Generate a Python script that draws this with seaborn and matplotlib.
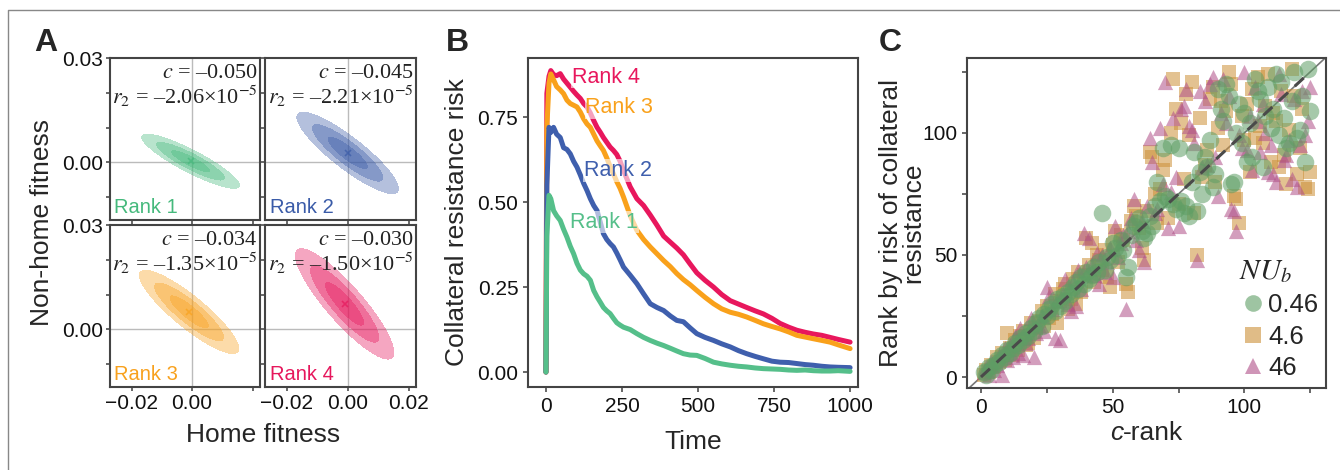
import numpy as np
import pandas as pd
import matplotlib
matplotlib.use("Agg")
import matplotlib.pyplot as plt
import seaborn as sns
from matplotlib.lines import Line2D
from matplotlib.offsetbox import TextArea, HPacker, AnchoredOffsetbox

# ---------------- Daten ----------------
# Panel A: Parameter der Fitness-Verteilungen (Mittelwert, SD, Korrelation)
rank_names = ["Rank 1", "Rank 2", "Rank 3", "Rank 4"]
rank_colors = ["#45B97C", "#3A5BA8", "#F8A11D", "#E6175C"]
ell_mean_x = [-0.0005, 0.0, -0.001, -0.001]
ell_mean_y = [0.0003, 0.0027, 0.005, 0.0073]
ell_sd_x = [0.0062, 0.0064, 0.0063, 0.0062]
ell_sd_y = [0.0030, 0.0045, 0.0046, 0.0061]
ell_rho = [-0.89, -0.88, -0.88, -0.88]
c_labels = ["\u20130.050", "\u20130.045", "\u20130.034", "\u20130.030"]
r2_labels = ["\u20132.06", "\u20132.21", "\u20131.35", "\u20131.50"]

# Panel B: Collateral resistance risk über die Zeit
time = [0, 3, 10, 16, 25, 35, 47, 58, 69, 80, 91, 102, 113, 124, 135, 146, 157, 168, 179, 189,
        200, 211, 222, 233, 244, 255, 277, 299, 321, 343, 365, 387, 409, 430, 452, 474, 496, 523,
        551, 578, 606, 633, 660, 688, 715, 743, 770, 798, 825, 852, 879, 907, 934, 961, 1000]
risk_rank4 = [0.0, 0.82, 0.87, 0.887, 0.875, 0.872, 0.878, 0.862, 0.85, 0.838, 0.826, 0.815, 0.805,
              0.79, 0.78, 0.762, 0.74, 0.72, 0.705, 0.69, 0.676, 0.662, 0.652, 0.64, 0.62, 0.593,
              0.545, 0.51, 0.49, 0.462, 0.432, 0.40, 0.382, 0.365, 0.345, 0.318, 0.292, 0.27, 0.25,
              0.228, 0.21, 0.2, 0.19, 0.18, 0.171, 0.158, 0.143, 0.132, 0.123, 0.117, 0.112, 0.108,
              0.102, 0.096, 0.088]
risk_rank3 = [0.0, 0.72, 0.85, 0.877, 0.86, 0.84, 0.83, 0.819, 0.80, 0.79, 0.785, 0.78, 0.765,
              0.745, 0.73, 0.72, 0.70, 0.68, 0.665, 0.652, 0.63, 0.605, 0.583, 0.56, 0.54, 0.515,
              0.46, 0.417, 0.39, 0.368, 0.348, 0.328, 0.31, 0.29, 0.272, 0.257, 0.24, 0.22, 0.201,
              0.186, 0.176, 0.17, 0.162, 0.152, 0.142, 0.134, 0.127, 0.118, 0.108, 0.103, 0.098,
              0.093, 0.088, 0.08, 0.069]
risk_rank2 = [0.0, 0.55, 0.72, 0.705, 0.72, 0.70, 0.69, 0.66, 0.655, 0.642, 0.62, 0.603, 0.58,
              0.555, 0.534, 0.51, 0.49, 0.475, 0.44, 0.407, 0.39, 0.378, 0.368, 0.35, 0.33, 0.309,
              0.285, 0.26, 0.23, 0.201, 0.19, 0.181, 0.165, 0.152, 0.148, 0.13, 0.113, 0.102, 0.093,
              0.083, 0.074, 0.063, 0.054, 0.046, 0.039, 0.032, 0.029, 0.028, 0.025, 0.022, 0.02,
              0.017, 0.015, 0.014, 0.013]
risk_rank1 = [0.0, 0.40, 0.52, 0.51, 0.475, 0.46, 0.446, 0.42, 0.397, 0.37, 0.348, 0.32, 0.30,
              0.289, 0.282, 0.27, 0.24, 0.221, 0.205, 0.19, 0.18, 0.172, 0.158, 0.145, 0.138, 0.132,
              0.125, 0.113, 0.102, 0.093, 0.085, 0.078, 0.07, 0.062, 0.054, 0.05, 0.049, 0.04, 0.029,
              0.024, 0.02, 0.017, 0.015, 0.012, 0.01, 0.009, 0.008, 0.006, 0.005, 0.006, 0.004,
              0.003, 0.003, 0.004, 0.002]
label_time = [85, 129, 124, 80]
label_risk = [0.868, 0.777, 0.593, 0.441]

# Panel C: Rang nach Risiko vs. c-Rang (c-Rang = 1..125)
rank_nu046 = [2, 1, 4, 3, 5, 7, 6, 9, 8, 11,
              10, 12, 14, 13, 16, 15, 18, 17, 20, 19,
              22, 24, 21, 26, 25, 28, 30, 27, 32, 29,
              33, 31, 35, 34, 37, 39, 36, 41, 38, 43,
              40, 42, 45, 43, 47, 67, 44, 49, 48, 55,
              53, 50, 56, 52, 41, 45, 58, 62, 63, 65,
              60, 57, 59, 66, 62, 70, 80, 72, 94, 74,
              73, 95, 71, 69, 94, 72, 67, 70, 66, 80,
              92, 68, 84, 75, 90, 86, 97, 78, 83, 118,
              110, 105, 120, 115, 79, 80, 100, 112, 96, 108,
              88, 104, 90, 122, 117, 114, 86, 107, 119, 102,
              110, 124, 99, 121, 106, 94, 96, 113, 125, 98,
              101, 115, 88, 126, 109]
rank_nu46 = [1, 3, 2, 5, 4, 8, 6, 10, 7, 18,
             12, 9, 15, 11, 17, 19, 13, 14, 22, 16,
             20, 23, 27, 21, 29, 24, 26, 34, 22, 31,
             36, 38, 28, 32, 40, 30, 43, 35, 42, 57,
             46, 55, 39, 50, 48, 44, 52, 41, 37, 54,
             60, 47, 58, 56, 38, 35, 64, 70, 66, 61,
             53, 48, 68, 92, 90, 75, 63, 77, 85, 89,
             65, 100, 122, 110, 71, 104, 81, 116, 99, 121,
             67, 50, 106, 82, 87, 93, 114, 119, 80, 102,
             113, 95, 109, 125, 120, 74, 73, 63, 107, 97,
             112, 84, 118, 98, 123, 103, 96, 111, 124, 88,
             108, 105, 86, 117, 91, 79, 101, 126, 115, 83,
             94, 110, 78, 77, 84]
rank_nu460 = [2, 4, 1, 6, 3, 5, 9, 1, 12, 7,
              13, 8, 17, 10, 20, 9, 14, 16, 24, 8,
              18, 21, 25, 19, 37, 33, 28, 16, 31, 15,
              34, 40, 30, 27, 39, 29, 44, 36, 59, 45,
              57, 46, 42, 51, 38, 50, 43, 47, 53, 41,
              62, 49, 55, 58, 28, 60, 65, 73, 56, 52,
              64, 47, 70, 98, 88, 67, 69, 102, 79, 121,
              61, 76, 106, 82, 62, 110, 111, 118, 103, 101,
              96, 48, 117, 86, 113, 87, 120, 123, 90, 74,
              108, 122, 104, 115, 69, 68, 60, 99, 94, 125,
              93, 107, 85, 119, 105, 92, 112, 100, 84, 95,
              83, 80, 124, 116, 89, 91, 97, 81, 114, 78,
              95, 117, 99, 105, 119]
nu_labels = ["0.46", "4.6", "46"]
nu_colors = ["#5E9E64", "#CC9038", "#B04F88"]
nu_markers = ["o", "s", "^"]

# ---------------- Stil ----------------
sns.set_theme(style="ticks")
plt.rcParams["font.family"] = ["Liberation Sans", "DejaVu Sans"]
plt.rcParams["mathtext.fontset"] = "stix"
plt.rcParams["axes.edgecolor"] = "#444444"
plt.rcParams["axes.linewidth"] = 1.5
plt.rcParams["xtick.color"] = "#555555"
plt.rcParams["ytick.color"] = "#555555"
plt.rcParams["xtick.labelcolor"] = "#111111"
plt.rcParams["ytick.labelcolor"] = "#111111"
plt.rcParams["xtick.labelsize"] = 15
plt.rcParams["ytick.labelsize"] = 15
plt.rcParams["xtick.major.size"] = 3.5
plt.rcParams["ytick.major.size"] = 3.5

LABEL_FS = 19
W, H = 1340, 470
fig = plt.figure(figsize=(W / 100, H / 100), dpi=100)


def px_axes(x0, y0, x1, y1):
    return fig.add_axes([x0 / W, 1 - y1 / H, (x1 - x0) / W, (y1 - y0) / H])


# Rahmen oben/links
fig.add_artist(Line2D([8 / W, 8 / W, 1.0], [0.0, 1 - 10 / H, 1 - 10 / H], color="#888888", lw=1))

# ---------------- Panel A ----------------
boxes = [(110, 58, 260, 220), (265, 58, 416, 220), (110, 225, 260, 387), (265, 225, 416, 387)]
gx = np.linspace(-0.035, 0.03, 400)
gy = np.linspace(-0.025, 0.04, 400)
GX, GY = np.meshgrid(gx, gy)
levels_d = [2.6, 1.8, 1.0]
for i, box in enumerate(boxes):
    ax = px_axes(*box)
    ax.axhline(0, color="#BBBBBB", lw=1, zorder=0)
    ax.axvline(0, color="#BBBBBB", lw=1, zorder=0)
    zx = (GX - ell_mean_x[i]) / ell_sd_x[i]
    zy = (GY - ell_mean_y[i]) / ell_sd_y[i]
    r = ell_rho[i]
    D2 = (zx ** 2 - 2 * r * zx * zy + zy ** 2) / (1 - r ** 2)
    for d in levels_d:
        ax.contourf(GX, GY, D2, levels=[0, d ** 2], colors=[rank_colors[i]], alpha=0.38, zorder=1)
    ax.plot(ell_mean_x[i], ell_mean_y[i], marker="x", color=rank_colors[i], ms=4, mew=1.2, alpha=0.7)
    ax.set_xlim(-0.0271, 0.0224)
    ax.set_ylim(-0.0166, 0.03)
    ax.set_xticks([-0.02, 0.0, 0.02])
    ax.set_yticks([-0.01, 0.0, 0.01, 0.02, 0.03])
    if i >= 2:
        xl = ["\u22120.02", "0.00", ""] if i == 2 else ["\u22120.02", "0.00", "0.02"]
        ax.set_xticklabels(xl)
    else:
        ax.set_xticklabels([])
    if i % 2 == 0:
        ax.set_yticklabels(["", "0.00", "", "", "0.03"])
    else:
        ax.set_yticklabels([])
    ax.tick_params(length=3, pad=2)
    ax.text(0.985, 0.905, r"$c$ = " + c_labels[i], transform=ax.transAxes, ha="right", va="center",
            fontsize=16, family="Liberation Serif", color="#222222")
    ax.text(0.985, 0.765, r"$r_2$ = " + r2_labels[i] + "\u00d710" + r"$^{-5}$",
            transform=ax.transAxes, ha="right", va="center",
            fontsize=16, family="Liberation Serif", color="#222222")
    ax.text(0.03, 0.08, rank_names[i], transform=ax.transAxes, ha="left", va="center",
            fontsize=14.5, color=rank_colors[i])

fig.text(263 / W, 1 - 435 / H, "Home fitness", ha="center", va="center", fontsize=LABEL_FS)
fig.text(42 / W, 1 - 222 / H, "Non-home fitness", ha="center", va="center", rotation=90, fontsize=LABEL_FS)

# ---------------- Panel B ----------------
axb = px_axes(528, 58, 858, 387)
df_risk = pd.DataFrame({
    "Time": time * 4,
    "Risk": risk_rank4 + risk_rank3 + risk_rank2 + risk_rank1,
    "Rank": ["Rank 4"] * len(time) + ["Rank 3"] * len(time) + ["Rank 2"] * len(time) + ["Rank 1"] * len(time),
})
line_palette = {"Rank 1": "#55BF8A", "Rank 2": "#3F5FAD", "Rank 3": "#F9A11B", "Rank 4": "#E8175D"}
sns.lineplot(data=df_risk, x="Time", y="Risk", hue="Rank", palette=line_palette, lw=3.6,
             legend=False, ax=axb, hue_order=["Rank 4", "Rank 3", "Rank 2", "Rank 1"])
for k, name in enumerate(["Rank 4", "Rank 3", "Rank 2", "Rank 1"]):
    axb.text(label_time[k], label_risk[k], name, color=line_palette[name], fontsize=15.5,
             ha="left", va="center",
             bbox=dict(facecolor="white", alpha=0.6, edgecolor="none", pad=0.5))
axb.set_xlim(-59, 1026)
axb.set_ylim(-0.044, 0.924)
axb.set_xticks([0, 250, 500, 750, 1000])
axb.set_yticks([0, 0.25, 0.5, 0.75])
axb.set_yticklabels(["0.00", "0.25", "0.50", "0.75"])
axb.set_xlabel("Time", fontsize=LABEL_FS, labelpad=10)
axb.set_ylabel("Collateral resistance risk", fontsize=LABEL_FS, labelpad=6)

# ---------------- Panel C ----------------
axc = px_axes(967, 58, 1326, 388)
c_rank = list(range(1, len(rank_nu046) + 1))
df_rank = pd.DataFrame({
    "c_rank": c_rank * 3,
    "risk_rank": rank_nu46 + rank_nu460 + rank_nu046,
    "NU": ["4.6"] * len(c_rank) + ["46"] * len(c_rank) + ["0.46"] * len(c_rank),
})
axc.plot([-10, 140], [-10, 140], color="#777777", lw=1.2, zorder=0)
sizes = {"0.46": 160, "4.6": 110, "46": 120}
for nu in ["4.6", "46", "0.46"]:
    j = nu_labels.index(nu)
    sub = df_rank[df_rank["NU"] == nu]
    sns.scatterplot(data=sub, x="c_rank", y="risk_rank", color=nu_colors[j], marker=nu_markers[j],
                    s=sizes[nu], alpha=0.55, linewidth=0, ax=axc, legend=False, zorder=2)
axc.plot([0, 125], [0, 125], color="#4A4A4A", lw=2.2, ls=(0, (4, 3)), zorder=3)
axc.set_xlim(-5.3, 131)
axc.set_ylim(-4.5, 130.7)
axc.set_xticks([0, 25, 50, 75, 100, 125])
axc.set_xticklabels(["0", "", "50", "", "100", ""])
axc.set_yticks([0, 25, 50, 75, 100, 125])
axc.set_yticklabels(["0", "", "50", "", "100", ""])
axc.set_xlabel("")
axc.set_ylabel("Rank by risk of collateral\nresistance", fontsize=LABEL_FS, labelpad=-2, linespacing=0.9)
xlab = HPacker(children=[TextArea("c", textprops=dict(fontsize=LABEL_FS, style="italic")),
                         TextArea("-rank", textprops=dict(fontsize=LABEL_FS))], pad=0, sep=0)
axc.add_artist(AnchoredOffsetbox(loc="center", child=xlab, frameon=False, pad=0, borderpad=0,
                                 bbox_to_anchor=(0.5, -0.135), bbox_transform=axc.transAxes))
handles = [Line2D([], [], ls="none", marker=nu_markers[j], color=nu_colors[j], alpha=0.6,
                  markersize=12 if j == 0 else 11, markeredgewidth=0) for j in range(3)]
leg = axc.legend(handles, nu_labels, title=r"$NU_b$", loc="lower right", frameon=False,
                 fontsize=18.5, title_fontsize=21, handletextpad=0.05, labelspacing=0.3,
                 borderaxespad=0.1, handlelength=1.1, borderpad=0.2, bbox_to_anchor=(1.0, 0.0))
leg._legend_box.align = "left"

# Panel-Buchstaben
for letter, xp in [("A", 34), ("B", 446), ("C", 879)]:
    fig.text(xp / W, 1 - 43 / H, letter, fontsize=23, fontweight="bold", ha="left", va="center")

fig.savefig("out.png", dpi=100)
